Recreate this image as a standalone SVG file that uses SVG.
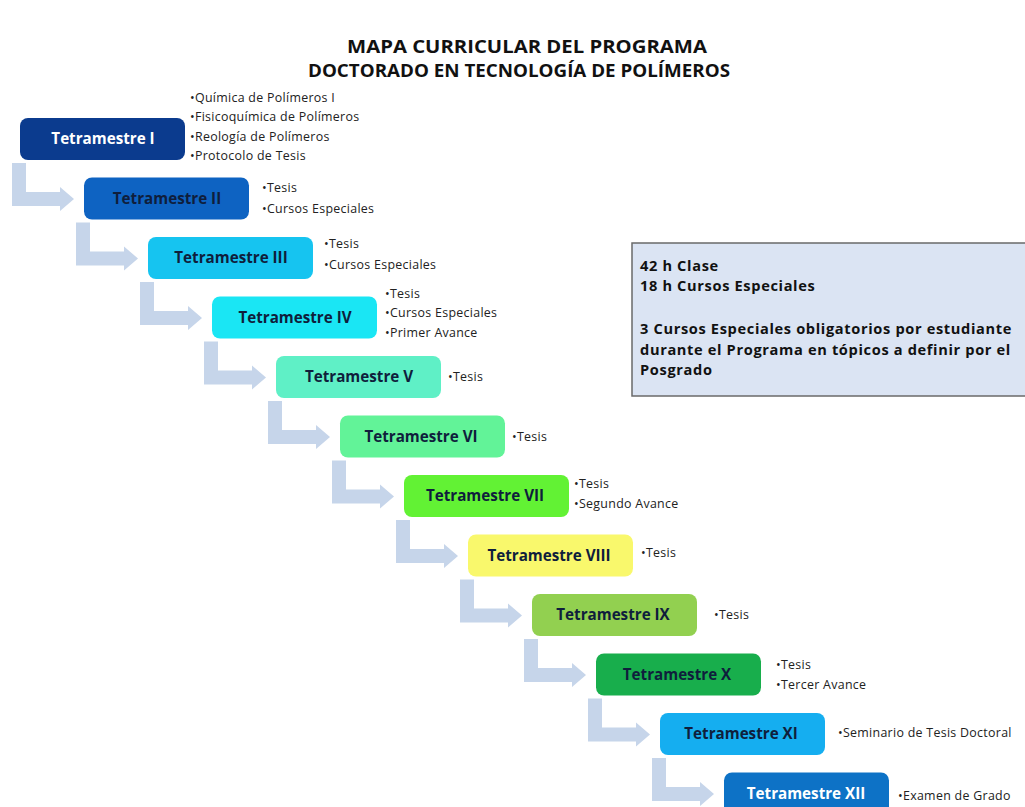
<svg xmlns="http://www.w3.org/2000/svg" xmlns:xlink="http://www.w3.org/1999/xlink" width="1025" height="807" viewBox="0 0 1025 807">
<style>
.title{font-family:"Open Sans","Liberation Sans",sans-serif;font-weight:bold;font-size:17px;fill:#111;text-anchor:middle}
.nt{font-family:"Open Sans","Liberation Sans",sans-serif;font-weight:bold;font-size:15.2px;fill:#0f1e3c;text-anchor:middle}
.nw{fill:#ffffff}
.bl{font-family:"Open Sans","Liberation Sans",sans-serif;font-size:12.4px;letter-spacing:0.3px;fill:#222}
.bx{font-family:"Open Sans","Liberation Sans",sans-serif;font-weight:bold;font-size:14.6px;letter-spacing:0.65px;fill:#111}
.arr{fill:#c6d5ea}
</style>
<defs>
<path id="ar" d="M12,163 L26,163 L26,192 L60,192 L60,187 L74,199 L60,211 L60,206 L12,206 Z"/>
</defs>
<rect width="1025" height="807" fill="#ffffff"/>
<text class="title" x="527" y="53" textLength="360" lengthAdjust="spacingAndGlyphs">MAPA CURRICULAR DEL PROGRAMA</text>
<text class="title" x="519" y="77" textLength="422" lengthAdjust="spacingAndGlyphs">DOCTORADO EN TECNOLOGÍA DE POLÍMEROS</text>
<g id="connectors" class="arr">
<use xlink:href="#ar"/>
<use xlink:href="#ar" transform="translate(64,59.5)"/>
<use xlink:href="#ar" transform="translate(128,119)"/>
<use xlink:href="#ar" transform="translate(192,178.5)"/>
<use xlink:href="#ar" transform="translate(256,238)"/>
<use xlink:href="#ar" transform="translate(320,297.5)"/>
<use xlink:href="#ar" transform="translate(384,357)"/>
<use xlink:href="#ar" transform="translate(448,416.5)"/>
<use xlink:href="#ar" transform="translate(512,476)"/>
<use xlink:href="#ar" transform="translate(576,535.5)"/>
<use xlink:href="#ar" transform="translate(640,595)"/>
</g>
<g id="n1"><rect x="20" y="118" width="165" height="42" rx="8" fill="#0b3b8e"/><text class="nt nw" x="103" y="144">Tetramestre I</text>
<text class="bl" x="190" y="102">•Química de Polímeros I</text><text class="bl" x="190" y="121">•Fisicoquímica de Polímeros</text><text class="bl" x="190" y="141">•Reología de Polímeros</text><text class="bl" x="190" y="160">•Protocolo de Tesis</text></g>
<g id="n2"><rect x="84" y="177.5" width="165" height="42" rx="8" fill="#0e63c2"/><text class="nt" x="167" y="203.5">Tetramestre II</text>
<text class="bl" x="262" y="192">•Tesis</text><text class="bl" x="262" y="213">•Cursos Especiales</text></g>
<g id="n3"><rect x="148" y="237" width="165" height="42" rx="8" fill="#16c4f0"/><text class="nt" x="231" y="263">Tetramestre III</text>
<text class="bl" x="324" y="248">•Tesis</text><text class="bl" x="324" y="269">•Cursos Especiales</text></g>
<g id="n4"><rect x="212" y="296.5" width="165" height="42" rx="8" fill="#1ae6f4"/><text class="nt" x="295" y="322.5">Tetramestre IV</text>
<text class="bl" x="385" y="298">•Tesis</text><text class="bl" x="385" y="317">•Cursos Especiales</text><text class="bl" x="385" y="337">•Primer Avance</text></g>
<g id="n5"><rect x="276" y="356" width="165" height="42" rx="8" fill="#5ff0c6"/><text class="nt" x="359" y="382">Tetramestre V</text>
<text class="bl" x="448" y="381">•Tesis</text></g>
<g id="n6"><rect x="340" y="415.5" width="165" height="42" rx="8" fill="#62f398"/><text class="nt" x="421" y="441.5">Tetramestre VI</text>
<text class="bl" x="512" y="441">•Tesis</text></g>
<g id="n7"><rect x="404" y="475" width="165" height="42" rx="8" fill="#62f234"/><text class="nt" x="485" y="501">Tetramestre VII</text>
<text class="bl" x="574" y="488">•Tesis</text><text class="bl" x="574" y="508">•Segundo Avance</text></g>
<g id="n8"><rect x="468" y="534.5" width="165" height="42" rx="8" fill="#f9f86c"/><text class="nt" x="549" y="560.5">Tetramestre VIII</text>
<text class="bl" x="641" y="557">•Tesis</text></g>
<g id="n9"><rect x="532" y="594" width="165" height="42" rx="8" fill="#92d050"/><text class="nt" x="613" y="620">Tetramestre IX</text>
<text class="bl" x="714" y="619">•Tesis</text></g>
<g id="n10"><rect x="596" y="653.5" width="165" height="42" rx="8" fill="#18ae4c"/><text class="nt" x="677" y="679.5">Tetramestre X</text>
<text class="bl" x="776" y="669">•Tesis</text><text class="bl" x="776" y="689">•Tercer Avance</text></g>
<g id="n11"><rect x="660" y="713" width="165" height="42" rx="8" fill="#15aef0"/><text class="nt" x="741" y="739">Tetramestre XI</text>
<text class="bl" x="838" y="737">•Seminario de Tesis Doctoral</text></g>
<g id="n12"><rect x="724" y="772.5" width="165" height="42" rx="8" fill="#0d72c6"/><text class="nt nw" x="806" y="798.5">Tetramestre XII</text>
<text class="bl" x="898" y="800">•Examen de Grado</text></g>
<g id="note"><rect x="632" y="243" width="400" height="153" fill="#dbe4f3" stroke="#6a6a6a" stroke-width="1.5"/>
<text class="bx" x="640" y="271">42 h Clase</text>
<text class="bx" x="640" y="291">18 h Cursos Especiales</text>
<text class="bx" x="640" y="334">3 Cursos Especiales obligatorios por estudiante</text>
<text class="bx" x="640" y="354.5">durante el Programa en tópicos a definir por el</text>
<text class="bx" x="640" y="375">Posgrado</text></g>
</svg>
